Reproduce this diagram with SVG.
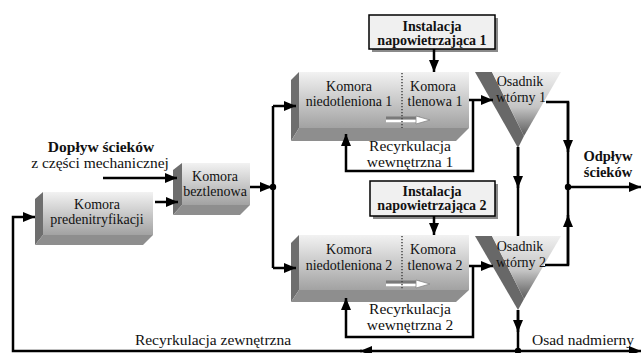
<svg xmlns="http://www.w3.org/2000/svg" width="641" height="353" viewBox="0 0 641 353">
<defs>
<linearGradient id="gFront" x1="0" y1="0" x2="0" y2="1">
<stop offset="0" stop-color="#f2f2f2"/>
<stop offset="1" stop-color="#a2a2a2"/>
</linearGradient>
<linearGradient id="gOs" x1="0" y1="0" x2="0" y2="1">
<stop offset="0" stop-color="#f0f0f0"/>
<stop offset="0.55" stop-color="#c4c4c4"/>
<stop offset="1" stop-color="#5c5c5c"/>
</linearGradient>
<marker id="ah" markerUnits="userSpaceOnUse" markerWidth="13" markerHeight="10" refX="12" refY="5" orient="auto">
<path d="M0,0 L12,5 L0,10 z" fill="#000"/>
</marker>
<style>
.t{font-family:"Liberation Serif","Times New Roman",serif;font-size:14px;fill:#111;text-anchor:middle}
.big{font-size:15.5px}
.od{font-size:14.5px}
.b{font-weight:bold}
.side{fill:#6e6e6e}
.bot{fill:#8e8e8e}
.front{fill:url(#gFront)}
.osf{fill:url(#gOs)}
.osd{fill:#686868}
.inst{fill:#f0f0f0;stroke:#000;stroke-width:1.5}
.shadow{fill:#8a8a8a}
.c{fill:none;stroke:#000;stroke-width:2.5}
.ca{fill:none;stroke:#000;stroke-width:2.5;marker-end:url(#ah)}
.dot{stroke:#444;stroke-width:1.5;stroke-dasharray:1.2 1.8}
</style>
</defs>
<rect width="641" height="353" fill="#fff"/>

<g id="predenitryfikacja">
<polygon class="side" points="35,199 43,192 43,235 35,245"/>
<polygon class="bot" points="35,245 143,245 153,235 43,235"/>
<rect class="front" x="43" y="192" width="110" height="43"/>
<text class="t" x="97" y="209">Komora</text>
<text class="t" x="97" y="224">predenitryfikacji</text>
</g>

<g id="beztlenowa">
<polygon class="side" points="173,170 182,163 182,205 173,215"/>
<polygon class="bot" points="173,215 240,215 250,205 182,205"/>
<rect class="front" x="182" y="163" width="68" height="42"/>
<text class="t" x="215" y="181">Komora</text>
<text class="t" x="215" y="196">beztlenowa</text>
</g>

<g id="komora1">
<polygon class="side" points="291,80 299,72 299,128 291,141"/>
<polygon class="bot" points="291,141 456,141 469,128 299,128"/>
<rect class="front" x="299" y="72" width="170" height="56"/>
<path d="M386,118 L420,118" stroke="#7a7a7a" stroke-width="3"/>
<path d="M386,121 L418,121" stroke="#fff" stroke-width="2.5"/>
<path d="M416,116 L430,120 L416,124 z" fill="#fff" stroke="#888" stroke-width="0.8"/>
<line class="dot" x1="402" y1="73" x2="402" y2="128"/>
<text class="t" x="349" y="91">Komora</text>
<text class="t" x="349" y="106">niedotleniona 1</text>
<text class="t" x="433" y="91">Komora</text>
<text class="t" x="435" y="106">tlenowa 1</text>
</g>

<g id="komora2">
<polygon class="side" points="291,243 299,235 299,290 291,302"/>
<polygon class="bot" points="291,302 456,302 469,290 299,290"/>
<rect class="front" x="299" y="235" width="170" height="55"/>
<path d="M386,282 L420,282" stroke="#7a7a7a" stroke-width="3"/>
<path d="M386,285 L418,285" stroke="#fff" stroke-width="2.5"/>
<path d="M416,280 L430,284 L416,288 z" fill="#fff" stroke="#888" stroke-width="0.8"/>
<line class="dot" x1="402" y1="236" x2="402" y2="290"/>
<text class="t" x="349" y="254">Komora</text>
<text class="t" x="349" y="270">niedotleniona 2</text>
<text class="t" x="433" y="254">Komora</text>
<text class="t" x="435" y="270">tlenowa 2</text>
</g>

<g id="instalacja1">
<rect class="shadow" x="372" y="18" width="126" height="34"/>
<rect class="inst" x="369" y="15" width="126" height="34"/>
<text class="t b" x="432" y="30.5">Instalacja</text>
<text class="t b" x="432" y="44.5">napowietrzająca 1</text>
</g>

<g id="instalacja2">
<rect class="shadow" x="373" y="184" width="125" height="35"/>
<rect class="inst" x="370" y="181" width="125" height="35"/>
<text class="t b" x="432" y="195.5">Instalacja</text>
<text class="t b" x="432" y="209.5">napowietrzająca 2</text>
</g>

<g id="osadnik1">
<polygon class="osd" points="475,72 492,72 524,136 518,148"/>
<polygon class="osf" points="492,72 561,72 524,136"/>
<text class="t" x="520" y="86">Osadnik</text>
<text class="t" x="521" y="102">wtórny 1</text>
</g>

<g id="osadnik2">
<polygon class="osd" points="475,236 492,236 524,299 518,310"/>
<polygon class="osf" points="492,236 561,236 524,299"/>
<text class="t" x="520" y="251">Osadnik</text>
<text class="t" x="521" y="267">wtórny 2</text>
</g>

<g id="labels">
<text class="t big b" x="101" y="152">Dopływ ścieków</text>
<text class="t big" x="100" y="168">z części mechanicznej</text>
<text class="t od b" x="608" y="161">Odpływ</text>
<text class="t od b" x="608" y="177">ścieków</text>
<text class="t big" x="410" y="151">Recyrkulacja</text>
<text class="t big" x="410" y="166.5">wewnętrzna 1</text>
<text class="t big" x="410" y="314">Recyrkulacja</text>
<text class="t big" x="410" y="330">wewnętrzna 2</text>
<text class="t big" x="213" y="345">Recyrkulacja zewnętrzna</text>
<text class="t big" x="583" y="345">Osad nadmierny</text>
</g>

<g id="connectors">
<path class="ca" d="M103,178 L177,178"/>
<path class="ca" d="M155,202 L178,202"/>
<path class="ca" d="M250,187 L272,187"/>
<path class="c" d="M273,106 L273,268"/>
<path class="ca" d="M273,106 L296,106"/>
<path class="ca" d="M273,268 L296,268"/>
<path class="ca" d="M434,49 L434,72"/>
<path class="ca" d="M434,216 L434,235"/>
<path class="ca" d="M469,100 L493,100"/>
<path class="ca" d="M469,266 L493,266"/>
<path class="ca" d="M473,100 L473,171 L346,171 L346,134"/>
<path class="ca" d="M473,266 L473,337 L346,337 L346,298"/>
<path class="c" d="M546,102 L568,102 L568,187"/>
<path class="ca" d="M568,102 L568,152"/>
<path class="c" d="M545,265 L568,265 L568,187"/>
<path class="ca" d="M568,265 L568,215"/>
<path class="ca" d="M568,187 L641,187"/>
<path class="c" d="M518,147 L518,236"/>
<path class="ca" d="M518,147 L518,188"/>
<path class="c" d="M518,310 L518,351"/>
<path class="ca" d="M518,310 L518,332"/>
<path class="ca" d="M518,351 L641,351"/>
<path class="ca" d="M518,351 L360,351"/>
<path class="ca" d="M362,351 L13,351 L13,217 L35,217"/>
<circle cx="273" cy="187" r="3.2" fill="#000"/>
<circle cx="568" cy="187" r="3.2" fill="#000"/>
<circle cx="518" cy="351" r="3.2" fill="#000"/>
</g>
</svg>
